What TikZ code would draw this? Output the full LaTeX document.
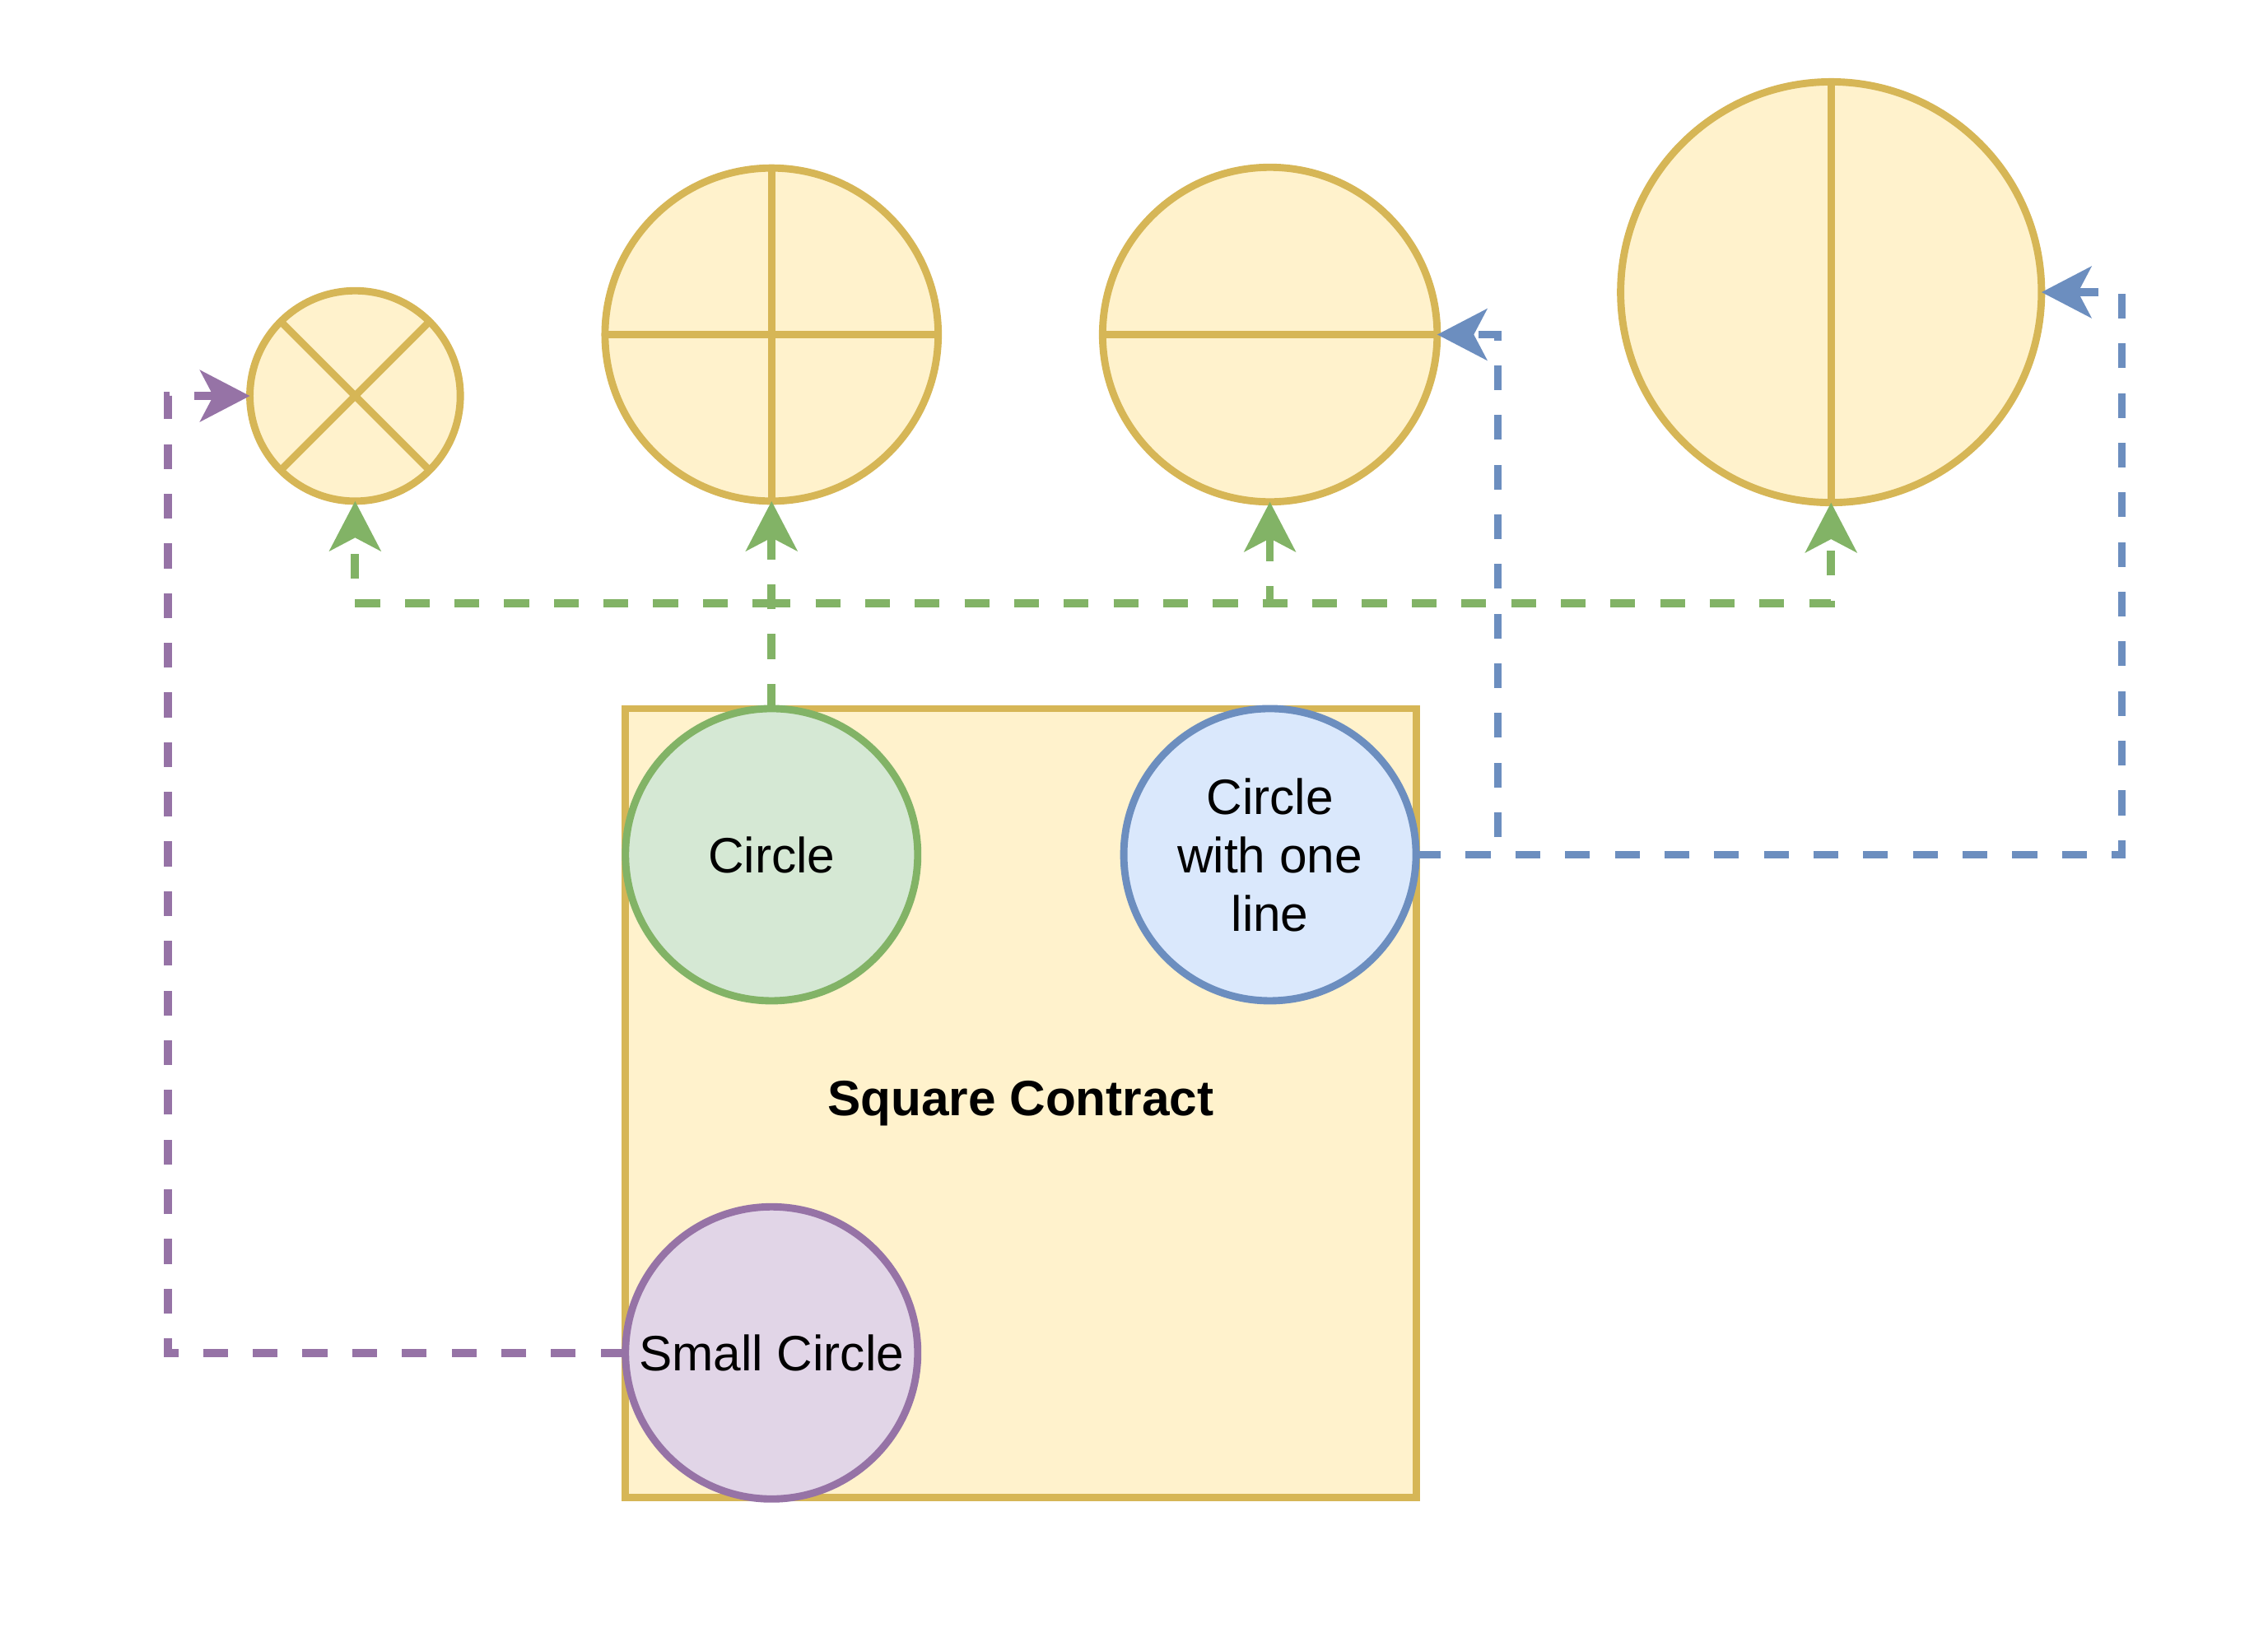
\documentclass[tikz,border=0pt]{standalone}
\usepackage{fontspec}
\setmainfont{Liberation Sans}
\usetikzlibrary{arrows.meta}

\definecolor{yfill}{HTML}{FFF2CC}
\definecolor{ydraw}{HTML}{D6B656}
\definecolor{gfill}{HTML}{D5E8D4}
\definecolor{gdraw}{HTML}{82B366}
\definecolor{bfill}{HTML}{DAE8FC}
\definecolor{bdraw}{HTML}{6C8EBF}
\definecolor{pfill}{HTML}{E1D5E7}
\definecolor{pdraw}{HTML}{9673A6}

\begin{document}
\begin{tikzpicture}[
    x=1pt, y=-1pt,
    every node/.style={font=\fontsize{34}{40}\selectfont},
    ring/.style={circle, draw=ydraw, fill=yfill, line width=5pt, inner sep=0pt, outer sep=0pt},
    part/.style={circle, line width=5pt, inner sep=0pt, outer sep=0pt, minimum size=200pt, align=center},
    link/.style={line width=5.5pt, dash pattern=on 17pt off 17pt,
        -{Stealth[length=34pt, width=35pt, inset=9pt]}}
]
\useasboundingbox (0,0) rectangle (1552,1130);

% the contract box
\node[draw=ydraw, fill=yfill, line width=5pt, minimum width=541pt, minimum height=540pt,
      inner sep=0pt, outer sep=0pt, font=\fontsize{34}{40}\selectfont\bfseries]
      (contract) at (698.5,755) {Square Contract};

\node[part, draw=gdraw, fill=gfill] (circ) at (528,585) {Circle};
\node[part, draw=bdraw, fill=bfill] (oneline) at (869,585) {Circle\\with one\\line};
\node[part, draw=pdraw, fill=pfill] (small) at (528,926) {Small Circle};

% the four targets
\node[ring, minimum size=144pt] (xcirc) at (243,271) {};
\draw[ydraw, line width=5pt] (xcirc.45) -- (xcirc.225) (xcirc.135) -- (xcirc.315);
\node[ring, minimum size=228pt] (crosscirc) at (528,229) {};
\draw[ydraw, line width=5pt] (crosscirc.north) -- (crosscirc.south) (crosscirc.west) -- (crosscirc.east);
\node[ring, minimum size=229pt] (hcirc) at (869,229) {};
\draw[ydraw, line width=5pt] (hcirc.west) -- (hcirc.east);
\node[ring, minimum size=288pt] (vcirc) at (1253,200) {};
\draw[ydraw, line width=5pt] (vcirc.north) -- (vcirc.south);

% green links
\draw[link, gdraw] (circ.north) -- (crosscirc.south);
\foreach \t in {xcirc,hcirc,vcirc}{
  \draw[link, gdraw] (circ.north) -- ++(0,-72) -| (\t.south);
}

% blue links
\draw[link, bdraw] (oneline.east) -- ++(56,0) |- (hcirc.east);
\draw[link, bdraw] (oneline.east) -- ++(483,0) |- (vcirc.east);

% purple link
\draw[link, pdraw] (small.west) -- ++(-313,0) |- (xcirc.west);

\end{tikzpicture}
\end{document}
